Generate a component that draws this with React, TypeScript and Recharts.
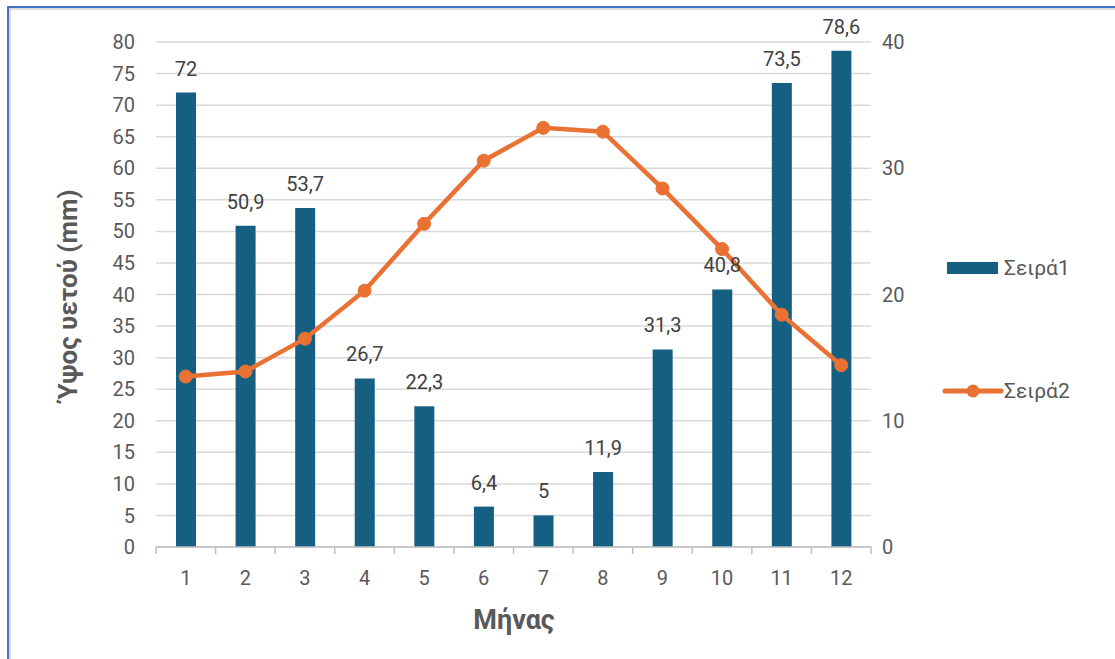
import { ComposedChart, Bar, Line, XAxis, YAxis, CartesianGrid, LabelList } from "recharts"

const months = [1, 2, 3, 4, 5, 6, 7, 8, 9, 10, 11, 12]
const rainfall = [72, 50.9, 53.7, 26.7, 22.3, 6.4, 5, 11.9, 31.3, 40.8, 73.5, 78.6]
const temperature = [13.5, 13.9, 16.5, 20.3, 25.6, 30.6, 33.2, 32.9, 28.4, 23.6, 18.4, 14.4]
const leftTicks = [0, 5, 10, 15, 20, 25, 30, 35, 40, 45, 50, 55, 60, 65, 70, 75, 80]
const rightTicks = [0, 10, 20, 30, 40]

const FONT = "Roboto, 'Liberation Sans', sans-serif"
const BLUE = "#156082"
const ORANGE = "#E97132"
const TICK = "#595959"

// plot box
const PLOT_LEFT = 156
const PLOT_RIGHT = 871
const PLOT_TOP = 42
const PLOT_BOTTOM = 547
const W = 1115
const H = 659

const data = months.map((m, i) => ({ month: m, rain: rainfall[i], temp: temperature[i] }))

const band = (PLOT_RIGHT - PLOT_LEFT) / months.length

function MonthTick(props: any) {
  const { x, payload, index } = props
  const last = index === months.length - 1
  return (
    <g>
      <line x1={x - band / 2} x2={x - band / 2} y1={PLOT_BOTTOM} y2={PLOT_BOTTOM + 7} stroke="#bfbfbf" strokeWidth={1.5} />
      {last && (
        <line x1={x + band / 2} x2={x + band / 2} y1={PLOT_BOTTOM} y2={PLOT_BOTTOM + 7} stroke="#bfbfbf" strokeWidth={1.5} />
      )}
      <text x={x} y={PLOT_BOTTOM + 31} textAnchor="middle" dominantBaseline="central" fill={TICK} fontSize={20} fontFamily={FONT}>
        {payload.value}
      </text>
    </g>
  )
}

function Legend() {
  return (
    <svg width={175} height={160} style={{ position: "absolute", left: 940, top: 250 }}>
      <rect x={7} y={12} width={51} height={12} fill={BLUE} />
      <text x={64} y={18} dominantBaseline="central" fill={TICK} fontSize={21} fontFamily={FONT}>Σειρά1</text>
      <line x1={5} x2={61} y1={141} y2={141} stroke={ORANGE} strokeWidth={5} strokeLinecap="round" />
      <circle cx={33} cy={141} r={6.5} fill={ORANGE} />
      <text x={64} y={141} dominantBaseline="central" fill={TICK} fontSize={21} fontFamily={FONT}>Σειρά2</text>
    </svg>
  )
}

export default function App() {
  return (
    <div style={{ position: "absolute", left: 0, top: 0, width: W, height: H, background: "#fff", overflow: "hidden", fontFamily: FONT }}>
      <div style={{ position: "absolute", left: 7, top: 6, width: W, height: H, borderTop: "2px solid #4472c4", borderLeft: "2px solid #4472c4" }} />
      <div style={{ position: "absolute", left: 9, top: 8, width: W, height: H, borderTop: "2px solid #dcdcdc", borderLeft: "2px solid #dcdcdc" }} />
      <ComposedChart
        width={W}
        height={H}
        data={data}
        margin={{ top: PLOT_TOP, right: W - PLOT_RIGHT - 40, bottom: H - PLOT_BOTTOM - 90, left: PLOT_LEFT - 70 }}
        barCategoryGap={0}
        style={{ position: "absolute", left: 0, top: 0 }}
      >
        <CartesianGrid yAxisId="left" vertical={false} stroke="#d9d9d9" strokeWidth={1.5} />
        <XAxis
          dataKey="month"
          height={90}
          tickLine={false}
          axisLine={{ stroke: "#bfbfbf", strokeWidth: 1.5 }}
          tick={<MonthTick />}
          interval={0}
        />
        <YAxis
          yAxisId="left"
          width={70}
          domain={[0, 80]}
          ticks={leftTicks}
          interval={0}
          axisLine={false}
          tickLine={false}
          tickMargin={15}
          tick={{ fill: TICK, fontSize: 20, fontFamily: FONT }}
        />
        <YAxis
          yAxisId="right"
          orientation="right"
          width={40}
          domain={[0, 40]}
          ticks={rightTicks}
          interval={0}
          axisLine={false}
          tickLine={false}
          tickMargin={5}
          tick={{ fill: TICK, fontSize: 20, fontFamily: FONT, textAnchor: "start" }}
        />
        <Bar yAxisId="left" dataKey="rain" fill={BLUE} barSize={20} isAnimationActive={false}>
          <LabelList
            dataKey="rain"
            position="top"
            offset={17}
            fill="#404040"
            fontSize={20}
            fontFamily={FONT}
            formatter={(v: any) => String(v).replace(".", ",")}
          />
        </Bar>
        <Line
          yAxisId="right"
          dataKey="temp"
          stroke={ORANGE}
          strokeWidth={4.5}
          dot={{ r: 6.5, fill: ORANGE, stroke: ORANGE, strokeWidth: 1 }}
          activeDot={false}
          isAnimationActive={false}
        />
      </ComposedChart>
      <svg width={W} height={H} style={{ position: "absolute", left: 0, top: 0, pointerEvents: "none" }}>
        <text x={68} y={295} transform="rotate(-90 68 295)" textAnchor="middle" dominantBaseline="central" fill={TICK} fontSize={26} fontWeight="bold" fontFamily={FONT}>
          Ύψος υετού (mm)
        </text>
        <text x={514} y={620} textAnchor="middle" dominantBaseline="central" fill={TICK} fontSize={27} fontWeight="bold" fontFamily={FONT}>
          Μήνας
        </text>
      </svg>
      <Legend />
    </div>
  )
}
